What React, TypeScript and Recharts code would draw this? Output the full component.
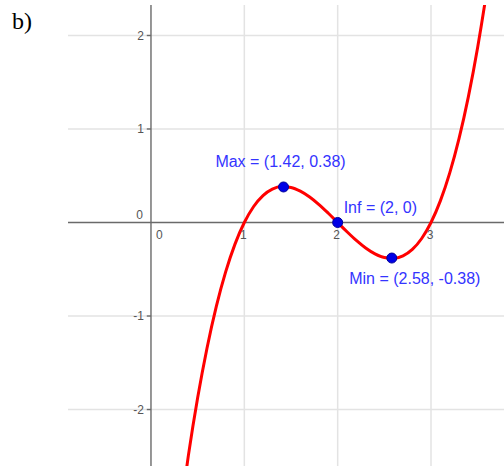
import React from "react";
import { ComposedChart, Line, XAxis, YAxis, ReferenceLine, ReferenceDot } from "recharts";

// Curve points: x and f(x)
const curveX = [0.3, 0.4, 0.5, 0.6, 0.7, 0.8, 0.9, 1.0, 1.1, 1.2, 1.3, 1.4, 1.5, 1.6, 1.7, 1.8, 1.9, 2.0, 2.1, 2.2, 2.3, 2.4, 2.5, 2.6, 2.7, 2.8, 2.9, 3.0, 3.1, 3.2, 3.3, 3.4, 3.5, 3.6, 3.7];
const curveY = [-3.213, -2.496, -1.875, -1.344, -0.897, -0.528, -0.231, 0, 0.171, 0.288, 0.357, 0.384, 0.375, 0.336, 0.273, 0.192, 0.099, 0, -0.099, -0.192, -0.273, -0.336, -0.375, -0.384, -0.357, -0.288, -0.171, 0, 0.231, 0.528, 0.897, 1.344, 1.875, 2.496, 3.213];

// Special points
const pointNames = ["Max", "Inf", "Min"];
const pointX = [1.42, 2, 2.58];
const pointY = [0.38, 0, -0.38];
const pointLabels = ["Max = (1.42, 0.38)", "Inf = (2, 0)", "Min = (2.58, -0.38)"];

// Ticks
const xTicks = [1, 2, 3];
const yTicks = [-2, -1, 1, 2];

const xDomain: [number, number] = [-0.889, 3.782];
const yDomain: [number, number] = [-2.604, 2.326];

const curve = curveX.map((x, i) => ({ x, y: curveY[i] }));

const labelFont = "'Liberation Sans', Arial, sans-serif";
const gridColor = "#e3e3e3";
const axisColor = "#6a6a6a";
const tickColor = "#555555";
const blue = "#3434ff";

const labelPlacement: Record<string, { dx: number; dy: number; anchor: "start" | "middle" | "end" }> = {
  Max: { dx: -3, dy: -20, anchor: "middle" },
  Inf: { dx: 6, dy: -9.5, anchor: "start" },
  Min: { dx: 23, dy: 25.5, anchor: "middle" },
};

export default function App() {
  return (
    <div style={{ position: "absolute", left: 0, top: 0, width: 504, height: 466 }}>
      <div
        style={{
          position: "absolute",
          left: 12,
          top: 6,
          fontFamily: "'Liberation Serif', 'Times New Roman', serif",
          fontSize: 24,
          color: "#000",
          lineHeight: "30px",
        }}
      >
        b)
      </div>
      <ComposedChart
        width={504}
        height={466}
        data={curve}
        margin={{ top: 5, right: 0, bottom: 0, left: 68 }}
      >
        <XAxis dataKey="x" type="number" domain={xDomain} allowDataOverflow hide />
        <YAxis type="number" domain={yDomain} allowDataOverflow hide />
        {xTicks.map((t) => (
          <ReferenceLine key={"gx" + t} x={t} stroke={gridColor} strokeWidth={1.5} />
        ))}
        {yTicks.map((t) => (
          <ReferenceLine key={"gy" + t} y={t} stroke={gridColor} strokeWidth={1.5} />
        ))}
        <ReferenceLine x={0} stroke={axisColor} strokeWidth={1.4} />
        <ReferenceLine y={0} stroke={axisColor} strokeWidth={1.4} />
        {yTicks.map((t) => (
          <ReferenceLine
            key={"tm" + t}
            segment={[{ x: -0.045, y: t }, { x: 0, y: t }]}
            stroke={axisColor}
            strokeWidth={1.4}
          />
        ))}
        {xTicks.map((t) => (
          <ReferenceDot
            key={"xl" + t}
            x={t}
            y={0}
            r={0}
            shape={(p: any) => (
              <text
                x={p.cx - 1}
                y={p.cy + 16.5}
                textAnchor="middle"
                fontFamily={labelFont}
                fontSize={12}
                fill={tickColor}
              >
                {t}
              </text>
            )}
          />
        ))}
        {yTicks.map((t) => (
          <ReferenceDot
            key={"yl" + t}
            x={0}
            y={t}
            r={0}
            shape={(p: any) => (
              <text
                x={p.cx - 7}
                y={p.cy + 4.3}
                textAnchor="end"
                fontFamily={labelFont}
                fontSize={12}
                fill={tickColor}
              >
                {t}
              </text>
            )}
          />
        ))}
        <ReferenceDot
          x={0}
          y={0}
          r={0}
          shape={(p: any) => (
            <g>
              <text x={p.cx - 8} y={p.cy - 3.5} textAnchor="end" fontFamily={labelFont} fontSize={12} fill={tickColor}>
                0
              </text>
              <text x={p.cx + 5} y={p.cy + 16.5} textAnchor="start" fontFamily={labelFont} fontSize={12} fill={tickColor}>
                0
              </text>
            </g>
          )}
        />
        <Line
          dataKey="y"
          type="monotone"
          stroke="#ff0000"
          strokeWidth={3}
          dot={false}
          activeDot={false}
          isAnimationActive={false}
        />
        {pointNames.map((n, i) => (
          <ReferenceDot
            key={"pt" + n}
            x={pointX[i]}
            y={pointY[i]}
            r={5}
            shape={(p: any) => {
              const pl = labelPlacement[n];
              return (
                <g>
                  <circle cx={p.cx} cy={p.cy} r={5} fill="#0000e6" stroke="#00009a" strokeWidth={1} />
                  <text
                    x={p.cx + pl.dx}
                    y={p.cy + pl.dy}
                    textAnchor={pl.anchor}
                    fontFamily={labelFont}
                    fontSize={16}
                    fill={blue}
                  >
                    {pointLabels[i]}
                  </text>
                </g>
              );
            }}
          />
        ))}
      </ComposedChart>
    </div>
  );
}
